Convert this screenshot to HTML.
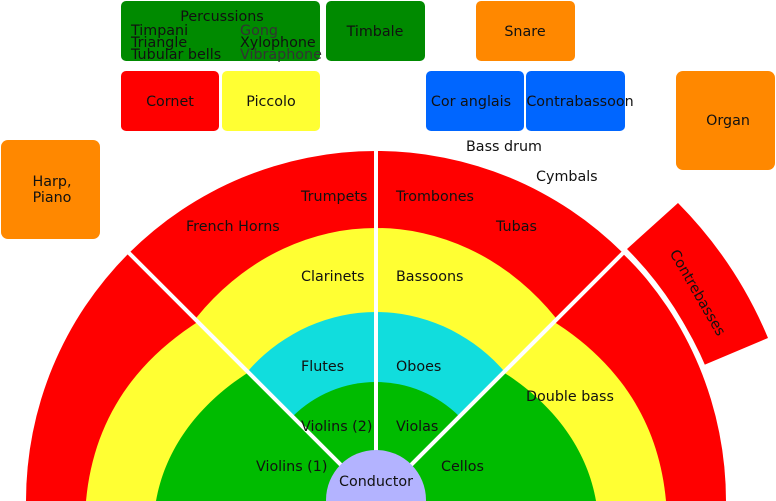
<!DOCTYPE html>
<html><head><meta charset="utf-8"><style>
html,body{margin:0;padding:0;background:#fff;width:776px;height:501px;overflow:hidden;}
svg{display:block;}
text{font-family:"DejaVu Sans","Liberation Sans",sans-serif;font-size:14.3px;fill:#111;dominant-baseline:central;}
</style></head><body>
<svg width="776" height="501" viewBox="0 0 776 501" xmlns="http://www.w3.org/2000/svg">
<defs>
<clipPath id="mid"><polygon points="376,500 -124,0 876,0"/></clipPath>
<clipPath id="side"><polygon points="376,500 -124,0 -200,0 -200,501 976,501 976,0 876,0"/></clipPath>
</defs>
<rect x="121" y="1" width="199" height="60" rx="5" fill="#008a00"/>
<rect x="326" y="1" width="99" height="60" rx="5" fill="#008a00"/>
<rect x="476" y="1" width="99" height="60" rx="5" fill="#ff8800"/>
<rect x="121" y="71" width="98" height="60" rx="5" fill="#ff0000"/>
<rect x="222" y="71" width="98" height="60" rx="5" fill="#ffff33"/>
<rect x="426" y="71" width="98" height="60" rx="5" fill="#0066ff"/>
<rect x="526" y="71" width="99" height="60" rx="5" fill="#0066ff"/>
<rect x="676" y="71" width="99" height="99" rx="7" fill="#ff8800"/>
<rect x="1" y="140" width="99" height="99" rx="7" fill="#ff8800"/>
<text x="222" y="17" text-anchor="middle">Percussions</text>
<text x="131" y="31">Timpani</text><text x="131" y="43">Triangle</text><text x="131" y="55" fill="#222">Tubular bells</text>
<text x="240" y="31" style="fill:#333">Gong</text><text x="240" y="43">Xylophone</text><text x="240" y="55" style="fill:#333">Vibraphone</text>
<text x="375" y="32" text-anchor="middle">Timbale</text>
<text x="525" y="32" text-anchor="middle">Snare</text>
<text x="170" y="102" text-anchor="middle">Cornet</text>
<text x="271" y="102" text-anchor="middle">Piccolo</text>
<text x="471" y="102" text-anchor="middle">Cor anglais</text>
<text x="580" y="102" text-anchor="middle">Contrabassoon</text>
<text x="728" y="121" text-anchor="middle">Organ</text>
<text x="52" y="182" text-anchor="middle">Harp,</text>
<text x="52" y="198" text-anchor="middle">Piano</text>
<path d="M627,249 A355,355 0 0 1 704,365 L768,338 A424,424 0 0 0 678,203 Z" fill="#ff0000"/>
<text x="697" y="293" text-anchor="middle" transform="rotate(60 697 293)">Contrebasses</text>
<path d="M26,501 A350,350 0 0 1 726,501 Z" fill="#ff0000"/>
<g clip-path="url(#mid)">
<ellipse cx="376" cy="500" rx="242" ry="272" fill="#ffff33"/>
<ellipse cx="376" cy="500" rx="176" ry="188" fill="#11dddd"/>
<ellipse cx="376" cy="500" rx="118" ry="118" fill="#00bb00"/>
</g>
<g clip-path="url(#side)">
<path d="M86,501 C98,370 200,290 376,258 C552,290 654,370 666,501 Z" fill="#ffff33"/>
<path d="M156,501 C172,410 260,345 376,325 C492,345 580,410 596,501 Z" fill="#00bb00"/>
</g>
<line x1="376" y1="500" x2="376" y2="148" stroke="#fff" stroke-width="4"/>
<line x1="376" y1="500" x2="127" y2="251" stroke="#fff" stroke-width="4"/>
<line x1="376" y1="500" x2="625" y2="251" stroke="#fff" stroke-width="4"/>
<path d="M624,252 A351,351 0 0 1 705,370" fill="none" stroke="#fff" stroke-width="4"/>
<circle cx="376" cy="500" r="50" fill="#b3b3ff"/>
<text x="301" y="197">Trumpets</text>
<text x="396" y="197">Trombones</text>
<text x="186" y="227">French Horns</text>
<text x="496" y="227">Tubas</text>
<text x="466" y="147">Bass drum</text>
<text x="536" y="177">Cymbals</text>
<text x="301" y="277">Clarinets</text>
<text x="396" y="277">Bassoons</text>
<text x="301" y="367">Flutes</text>
<text x="396" y="367">Oboes</text>
<text x="526" y="397">Double bass</text>
<text x="301" y="427">Violins (2)</text>
<text x="396" y="427">Violas</text>
<text x="256" y="467">Violins (1)</text>
<text x="441" y="467">Cellos</text>
<text x="376" y="482" text-anchor="middle">Conductor</text>
</svg>
</body></html>
